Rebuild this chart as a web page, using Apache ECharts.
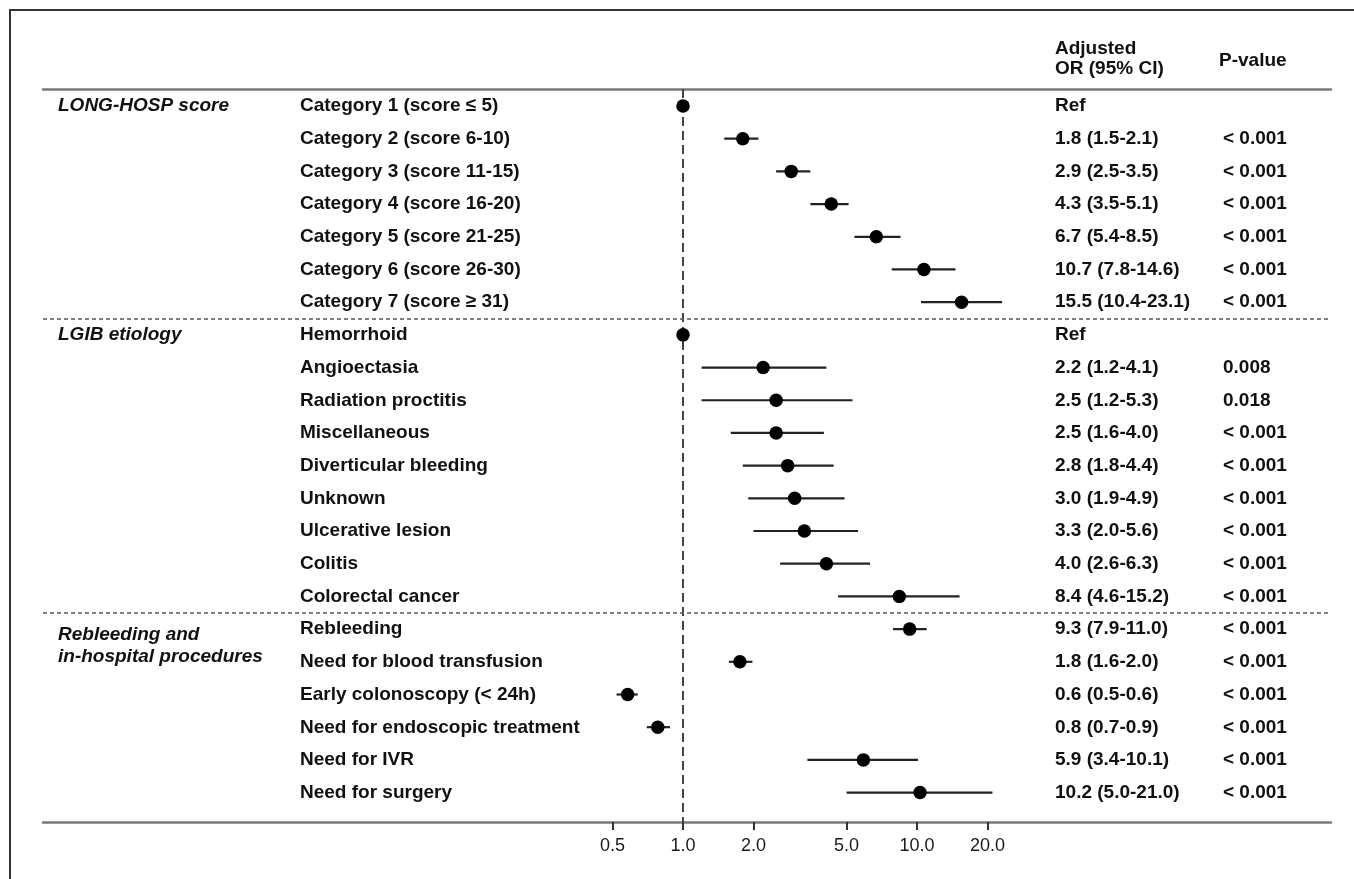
<!DOCTYPE html>
<html><head><meta charset="utf-8">
<script src="https://cdn.jsdelivr.net/npm/echarts@6/dist/echarts.min.js"></script>
<style>html,body{margin:0;padding:0;background:#fff}#chart{width:1354px;height:879px}</style>
</head><body><div id="chart"></div>
<script>
// ---------- data ----------
const groupLabels = ['LONG-HOSP score', 'LGIB etiology', 'Rebleeding and\nin-hospital procedures'];
const groupStartRows = [0, 7, 16];

const rowLabels = [
  'Category 1 (score ≤ 5)', 'Category 2 (score 6-10)', 'Category 3 (score 11-15)',
  'Category 4 (score 16-20)', 'Category 5 (score 21-25)', 'Category 6 (score 26-30)',
  'Category 7 (score ≥ 31)',
  'Hemorrhoid', 'Angioectasia', 'Radiation proctitis', 'Miscellaneous',
  'Diverticular bleeding', 'Unknown', 'Ulcerative lesion', 'Colitis', 'Colorectal cancer',
  'Rebleeding', 'Need for blood transfusion', 'Early colonoscopy (< 24h)',
  'Need for endoscopic treatment', 'Need for IVR', 'Need for surgery'
];
const orValues = [1.0, 1.8, 2.9, 4.3, 6.7, 10.7, 15.5,
  1.0, 2.2, 2.5, 2.5, 2.8, 3.0, 3.3, 4.1, 8.4,
  9.3, 1.75, 0.58, 0.78, 5.9, 10.3];
const ciLow = [null, 1.5, 2.5, 3.5, 5.4, 7.8, 10.4,
  null, 1.2, 1.2, 1.6, 1.8, 1.9, 2.0, 2.6, 4.6,
  7.9, 1.57, 0.52, 0.70, 3.4, 5.0];
const ciHigh = [null, 2.1, 3.5, 5.1, 8.5, 14.6, 23.1,
  null, 4.1, 5.3, 4.0, 4.4, 4.9, 5.6, 6.3, 15.2,
  11.0, 1.98, 0.64, 0.88, 10.1, 21.0];
const orText = ['Ref', '1.8 (1.5-2.1)', '2.9 (2.5-3.5)', '4.3 (3.5-5.1)', '6.7 (5.4-8.5)',
  '10.7 (7.8-14.6)', '15.5 (10.4-23.1)',
  'Ref', '2.2 (1.2-4.1)', '2.5 (1.2-5.3)', '2.5 (1.6-4.0)', '2.8 (1.8-4.4)', '3.0 (1.9-4.9)',
  '3.3 (2.0-5.6)', '4.0 (2.6-6.3)', '8.4 (4.6-15.2)',
  '9.3 (7.9-11.0)', '1.8 (1.6-2.0)', '0.6 (0.5-0.6)', '0.8 (0.7-0.9)', '5.9 (3.4-10.1)',
  '10.2 (5.0-21.0)'];
const pText = ['', '< 0.001', '< 0.001', '< 0.001', '< 0.001', '< 0.001', '< 0.001',
  '', '0.008', '0.018', '< 0.001', '< 0.001', '< 0.001', '< 0.001', '< 0.001', '< 0.001',
  '< 0.001', '< 0.001', '< 0.001', '< 0.001', '< 0.001', '< 0.001'];
const xTicks = [0.5, 1.0, 2.0, 5.0, 10.0, 20.0];
const refValue = 1.0;
const dividerRows = [6.5, 15.5];
const headerOR = 'Adjusted\nOR (95% CI)';
const headerP = 'P-value';

// ---------- layout ----------
const FONT = "'Liberation Sans', Arial, Helvetica, sans-serif";
const BOLD = 19;
const TXT = '#111';
const X_MIN = -2.735, X_MAX = 2.769;   // log10 extent of plotting area
const Y_MIN = -0.52, Y_MAX = 21.9;
const MAIN = {left: 43, width: 1288, top: 89, height: 733};
const CAT = {top: 89.65, height: 719.4};

const lg = Math.log10;
const n = rowLabels.length;

const errData = [];
const ptData = [];
for (let i = 0; i < n; i++) {
  ptData.push([lg(orValues[i]), i]);
  if (ciLow[i] != null) errData.push([lg(ciLow[i]), lg(ciHigh[i]), i]);
}
const groupData = groupLabels.map((t, k) => {
  const lines = t.split('\n').length;
  return [0, groupStartRows[k] + (lines - 1) / 2, t];
});

function hiddenX(grid) {
  return {gridIndex: grid, type: 'value', min: 0, max: 1, show: false};
}
function textCol(grid, data) {
  return {
    gridIndex: grid, type: 'category', data: data, inverse: true, position: 'left',
    axisLine: {show: false}, axisTick: {show: false}, splitLine: {show: false},
    axisLabel: {inside: true, margin: 0, interval: 0, fontFamily: FONT, fontSize: BOLD,
      fontWeight: 'bold', color: TXT}
  };
}

const chart = echarts.init(document.getElementById('chart'));
chart.setOption({
  animation: false,
  backgroundColor: '#fff',
  grid: [
    MAIN,
    {left: 58, width: 10, top: MAIN.top, height: MAIN.height},
    {left: 300, width: 10, top: CAT.top, height: CAT.height},
    {left: 1055, width: 10, top: CAT.top, height: CAT.height},
    {left: 1223, width: 10, top: CAT.top, height: CAT.height}
  ],
  xAxis: [
    {gridIndex: 0, type: 'value', min: X_MIN, max: X_MAX, position: 'bottom',
      axisLine: {show: true, onZero: false, lineStyle: {color: '#7a7a7a', width: 2.5}},
      axisTick: {show: true, customValues: xTicks.map(lg), length: 8,
        lineStyle: {color: '#333', width: 2}},
      axisLabel: {customValues: xTicks.map(lg), margin: 15, fontFamily: FONT, fontSize: 18,
        color: '#1a1a1a', formatter: v => Math.pow(10, v).toFixed(1)},
      splitLine: {show: false}},
    {gridIndex: 0, type: 'value', min: X_MIN, max: X_MAX, position: 'top',
      axisLine: {show: true, onZero: false, lineStyle: {color: '#7a7a7a', width: 2.5}},
      axisTick: {show: false}, axisLabel: {show: false}, splitLine: {show: false}},
    hiddenX(1), hiddenX(2), hiddenX(3), hiddenX(4)
  ],
  yAxis: [
    {gridIndex: 0, type: 'value', inverse: true, min: Y_MIN, max: Y_MAX, show: false},
    {gridIndex: 1, type: 'value', inverse: true, min: Y_MIN, max: Y_MAX, show: false},
    textCol(2, rowLabels),
    textCol(3, orText),
    textCol(4, pText)
  ],
  graphic: [
    {type: 'polyline', shape: {points: [[10, 879], [10, 10], [1354, 10]]},
      style: {stroke: '#333', lineWidth: 2, fill: null}},
    {type: 'text', left: 1055, top: 39,
      style: {text: headerOR, fontFamily: FONT, fontSize: BOLD, fontWeight: 'bold',
        lineHeight: 20, fill: TXT}},
    {type: 'text', left: 1219, top: 51,
      style: {text: headerP, fontFamily: FONT, fontSize: BOLD, fontWeight: 'bold',
        lineHeight: 20, fill: TXT}}
  ],
  series: [
    {
      type: 'custom', xAxisIndex: 0, yAxisIndex: 0, data: errData,
      encode: {x: [0, 1], y: 2}, silent: true, z: 2,
      renderItem: function (params, api) {
        const a = api.coord([api.value(0), api.value(2)]);
        const b = api.coord([api.value(1), api.value(2)]);
        return {type: 'line', shape: {x1: a[0], y1: a[1], x2: b[0], y2: b[1]},
          style: {stroke: '#222', lineWidth: 2.2}};
      },
      markLine: {
        silent: true, symbol: ['none', 'none'], label: {show: false}, animation: false,
        data: [
          {xAxis: lg(refValue), lineStyle: {type: [9, 5], color: '#444', width: 2}},
          ...dividerRows.map(r => ({yAxis: r, lineStyle: {type: [4, 3], color: '#555', width: 1.5}}))
        ]
      }
    },
    {
      type: 'scatter', xAxisIndex: 0, yAxisIndex: 0, data: ptData, z: 5,
      symbol: 'circle', symbolSize: 13.5, itemStyle: {color: '#000', opacity: 1}, silent: true
    },
    {
      type: 'scatter', xAxisIndex: 2, yAxisIndex: 1, data: groupData, silent: true,
      symbolSize: 0, itemStyle: {color: '#000', opacity: 1},
      label: {show: true, position: 'right', distance: 0, formatter: p => p.data[2],
        fontFamily: FONT, fontSize: BOLD, fontWeight: 'bold', fontStyle: 'italic',
        lineHeight: 22, color: TXT, opacity: 1, align: 'left'}
    }
  ]
});
</script>
</body></html>
